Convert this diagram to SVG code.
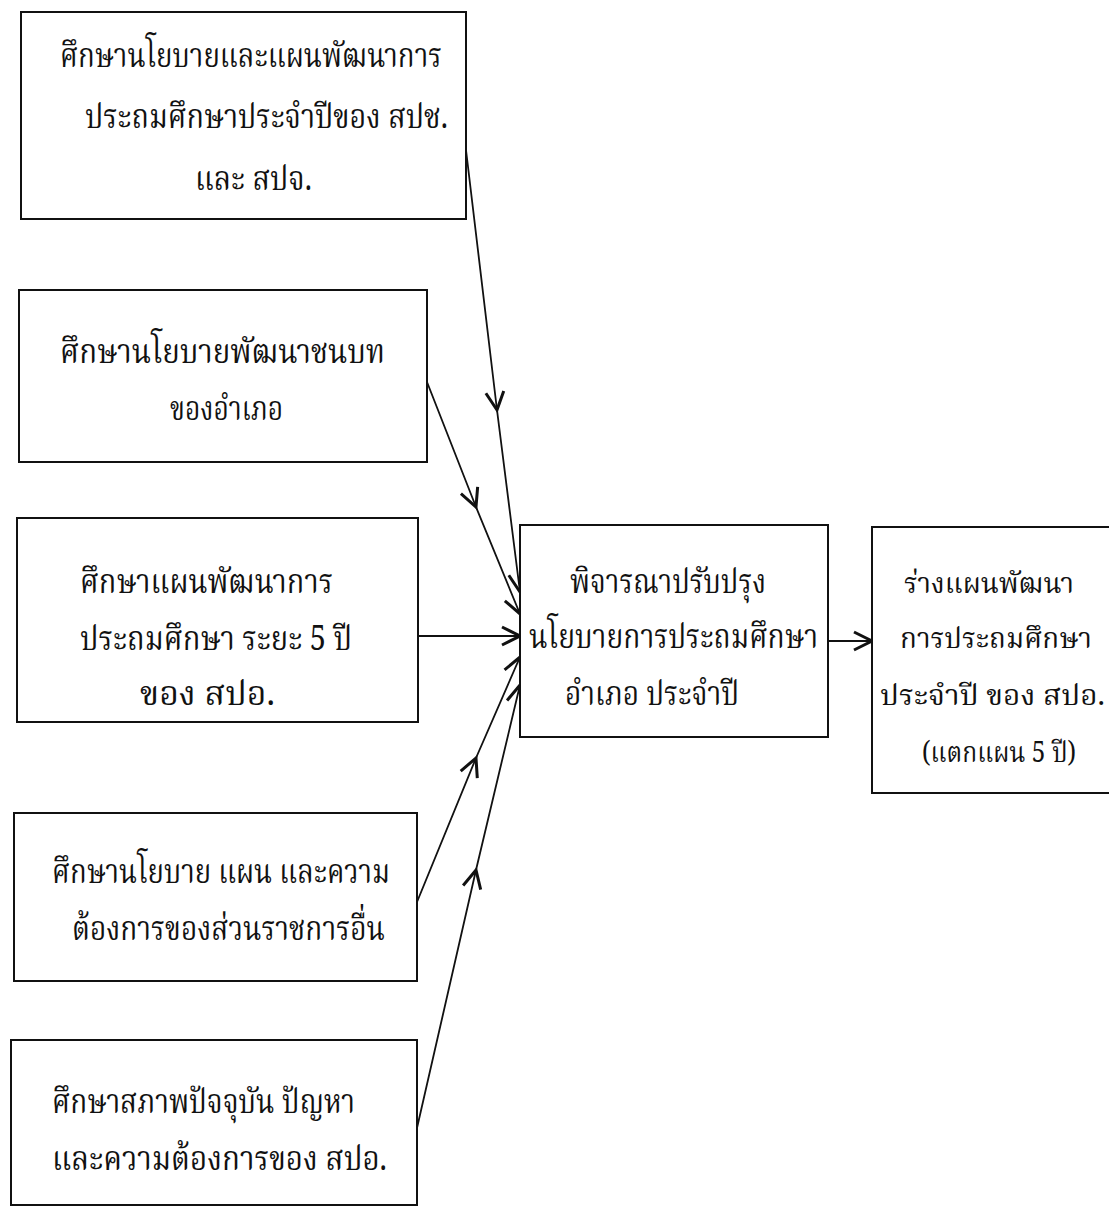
<svg xmlns="http://www.w3.org/2000/svg" width="1109" height="1208" viewBox="0 0 1109 1208">
<style>
.box{fill:#fff;stroke:#111;stroke-width:2}
.t{font-family:"Noto Serif Thai","Noto Sans Thai","Liberation Serif",serif;font-size:34px;fill:#111}
.r{font-size:29px}
.c{fill:none;stroke:#111;stroke-width:1.8}
</style>
<defs>
<marker id="ah" markerUnits="userSpaceOnUse" markerWidth="30" markerHeight="30" viewBox="-15 -10 20 20" refX="0" refY="0" orient="auto">
<path d="M-12,-6 L0,0 L-12,6" fill="none" stroke="#111" stroke-width="2"/>
</marker>
</defs>
<rect width="1109" height="1208" fill="#fff"/>
<g id="connectors">
<polyline class="c" points="466,150 497,410 520,592" marker-mid="url(#ah)" marker-end="url(#ah)"/>
<polyline class="c" points="427,382 476,507 520,614" marker-mid="url(#ah)" marker-end="url(#ah)"/>
<line class="c" x1="418" y1="636" x2="520" y2="636" marker-end="url(#ah)"/>
<polyline class="c" points="417,902 476,758 520,657" marker-mid="url(#ah)" marker-end="url(#ah)"/>
<polyline class="c" points="417,1128 476,870 520,685" marker-mid="url(#ah)" marker-end="url(#ah)"/>
<line class="c" x1="828" y1="641" x2="872" y2="641" marker-end="url(#ah)"/>
</g>
<g id="n1">
<rect class="box" x="21" y="12" width="445" height="207"/>
<text class="t" x="60" y="67" textLength="382" lengthAdjust="spacingAndGlyphs">ศึกษานโยบายและแผนพัฒนาการ</text>
<text class="t" x="85" y="128" textLength="363" lengthAdjust="spacingAndGlyphs">ประถมศึกษาประจำปีของ สปช.</text>
<text class="t" x="195" y="190" textLength="117" lengthAdjust="spacingAndGlyphs">และ สปจ.</text>
</g>
<g id="n2">
<rect class="box" x="19" y="290" width="408" height="172"/>
<text class="t" x="60" y="363" textLength="325" lengthAdjust="spacingAndGlyphs">ศึกษานโยบายพัฒนาชนบท</text>
<text class="t" x="170" y="420" textLength="113" lengthAdjust="spacingAndGlyphs">ของอำเภอ</text>
</g>
<g id="n3">
<rect class="box" x="17" y="518" width="401" height="204"/>
<text class="t" x="80" y="593" textLength="253" lengthAdjust="spacingAndGlyphs">ศึกษาแผนพัฒนาการ</text>
<text class="t" x="80" y="650" textLength="272" lengthAdjust="spacingAndGlyphs">ประถมศึกษา ระยะ 5 ปี</text>
<text class="t" x="140" y="705" textLength="135" lengthAdjust="spacingAndGlyphs">ของ สปอ.</text>
</g>
<g id="n4">
<rect class="box" x="14" y="813" width="403" height="168"/>
<text class="t" x="52" y="883" textLength="338" lengthAdjust="spacingAndGlyphs">ศึกษานโยบาย แผน และความ</text>
<text class="t" x="72" y="940" textLength="313" lengthAdjust="spacingAndGlyphs">ต้องการของส่วนราชการอื่น</text>
</g>
<g id="n5">
<rect class="box" x="11" y="1040" width="406" height="165"/>
<text class="t" x="52" y="1113" textLength="303" lengthAdjust="spacingAndGlyphs">ศึกษาสภาพปัจจุบัน ปัญหา</text>
<text class="t" x="52" y="1170" textLength="335" lengthAdjust="spacingAndGlyphs">และความต้องการของ สปอ.</text>
</g>
<g id="n6">
<rect class="box" x="520" y="525" width="308" height="212"/>
<text class="t" x="570" y="593" textLength="196" lengthAdjust="spacingAndGlyphs">พิจารณาปรับปรุง</text>
<text class="t" x="529" y="648" textLength="289" lengthAdjust="spacingAndGlyphs">นโยบายการประถมศึกษา</text>
<text class="t" x="565" y="705" textLength="174" lengthAdjust="spacingAndGlyphs">อำเภอ ประจำปี</text>
</g>
<g id="n7">
<path class="box" d="M1109,527 H872 V793 H1109"/>
<text class="t r" x="904" y="593" textLength="170" lengthAdjust="spacingAndGlyphs">ร่างแผนพัฒนา</text>
<text class="t r" x="900" y="648" textLength="192" lengthAdjust="spacingAndGlyphs">การประถมศึกษา</text>
<text class="t r" x="880" y="705" textLength="225" lengthAdjust="spacingAndGlyphs">ประจำปี ของ สปอ.</text>
<text class="t r" x="922" y="762" textLength="154" lengthAdjust="spacingAndGlyphs">(แตกแผน 5 ปี)</text>
</g>
</svg>
